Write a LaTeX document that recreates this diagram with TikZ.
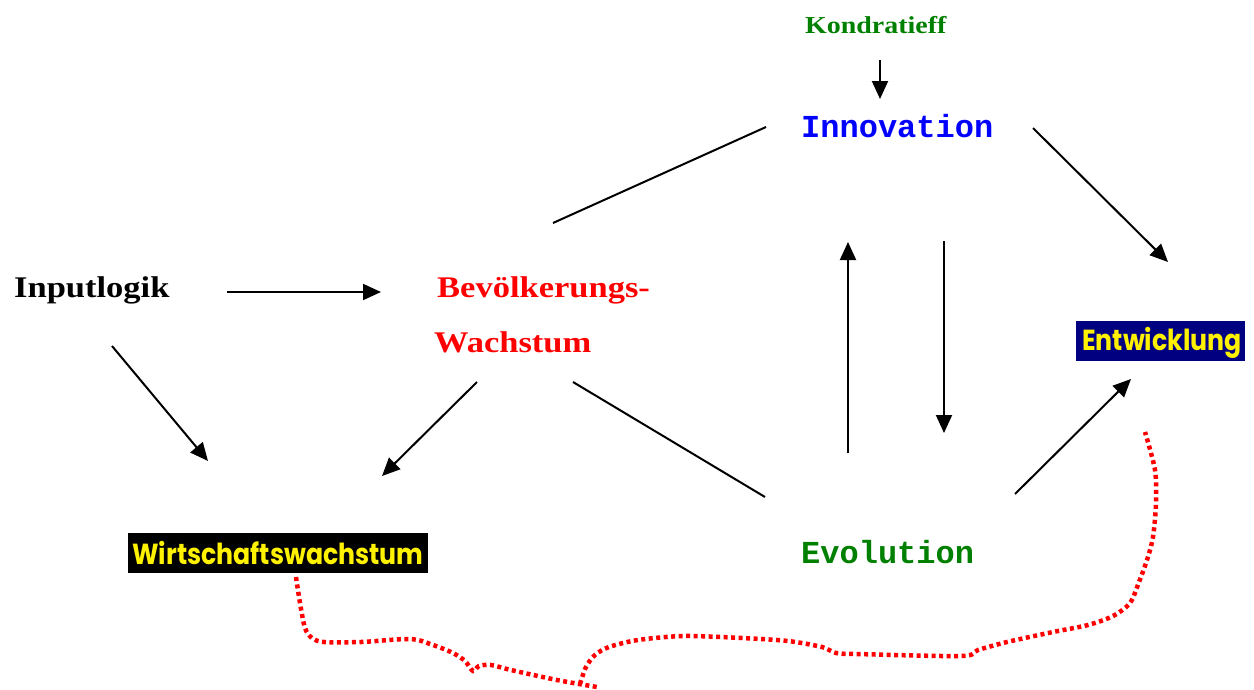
\documentclass[tikz,border=0pt]{standalone}
\usepackage{fontspec}
\usetikzlibrary{arrows.meta}
\newfontfamily\palb[FakeStretch=1.15]{Liberation Serif}
\newfontfamily\monob{Liberation Mono}
\newfontfamily\bauh[FakeStretch=0.87]{Poppins}
\definecolor{dgreen}{RGB}{0,128,0}
\definecolor{navyb}{RGB}{0,0,128}
\begin{document}
\begin{tikzpicture}[x=1pt,y=-1pt,
  lab/.style={anchor=base west, inner sep=0pt},
  ser/.style={font=\palb\bfseries\fontsize{30}{36}\selectfont},
  sersm/.style={font=\palb\bfseries\fontsize{24.3}{30}\selectfont},
  mono/.style={font=\monob\bfseries\fontsize{32}{38}\selectfont},
  boxlab/.style={anchor=base, inner sep=0pt, text=yellow, font=\bauh\bfseries\fontsize{29}{34}\selectfont},
  arr/.style={line width=2pt, -{Triangle[length=18pt,width=16pt]}},
  ln/.style={line width=2pt},
  brace/.style={red, line width=4.5pt, dash pattern=on 4pt off 3.5pt}
]
\useasboundingbox (0,0) rectangle (1254,689);

% text nodes
\node[lab, ser] (inp) at (14,297) {Inputlogik};
\node[lab, ser, text=red] (bev) at (437,297) {Bevölkerungs-};
\node[lab, ser, text=red] (wach) at (434,352) {Wachstum};
\node[lab, sersm, text=dgreen] (kon) at (805,33) {Kondratieff};
\node[lab, mono, text=blue] (inn) at (801,137) {Innovation};
\node[lab, mono, text=dgreen] (evo) at (801,563) {Evolution};
\node[fill=black, minimum width=300pt, minimum height=40pt, inner sep=0pt] (wwbox) at (278,553) {};
\node[boxlab] (ww) at (278,564) {Wirtschaftswachstum};
\node[fill=navyb, minimum width=169pt, minimum height=40pt, inner sep=0pt] (entbox) at (1160.5,341) {};
\node[boxlab] (ent) at (1162,350.5) {Entwicklung};

% connector end points
\coordinate (k1) at (880,60);   \coordinate (k2) at (880,99);
\coordinate (ib1) at (766,127); \coordinate (ib2) at (553,223);
\coordinate (ie1) at (1033,128); \coordinate (ie2) at (1168,262);
\coordinate (pb1) at (227,292); \coordinate (pb2) at (381,292);
\coordinate (pw1) at (112,346); \coordinate (pw2) at (208,461);
\coordinate (bw1) at (477,382); \coordinate (bw2) at (382,476);
\coordinate (be1) at (573,382); \coordinate (be2) at (765,497);
\coordinate (ei1) at (848,453); \coordinate (ei2) at (848,242);
\coordinate (ie3) at (944,241); \coordinate (ie4) at (944,433);
\coordinate (en1) at (1015,494); \coordinate (en2) at (1131,379);

\draw[arr] (k1) -- (k2);
\draw[ln] (ib1) -- (ib2);
\draw[arr] (ie1) -- (ie2);
\draw[arr] (pb1) -- (pb2);
\draw[arr] (pw1) -- (pw2);
\draw[arr] (bw1) -- (bw2);
\draw[ln] (be1) -- (be2);
\draw[arr] (ei1) -- (ei2);
\draw[arr] (ie3) -- (ie4);
\draw[arr] (en1) -- (en2);

% red dotted brace
\draw[brace] plot[smooth, tension=0.5] coordinates {
 (296,577) (300,603) (305,628) (312,638) (324,642) (361,642) (410,639) (433,645)
 (453,653) (465,661) (473,671) (479,666) (491,665) (511,670) (557,680) (597,687)};
\draw[brace] plot[smooth, tension=0.5] coordinates {
 (580,684) (586,667) (595,655) (609,647) (638,640) (684,636) (742,638) (788,641)
 (822,647) (836,653) (857,654) (961,656) (978,650) (1007,642) (1053,632)
 (1088,625) (1113,616) (1130,603) (1139,582) (1147,560) (1153,537) (1156,503)
 (1155,470) (1145,432)};
\end{tikzpicture}
\end{document}
